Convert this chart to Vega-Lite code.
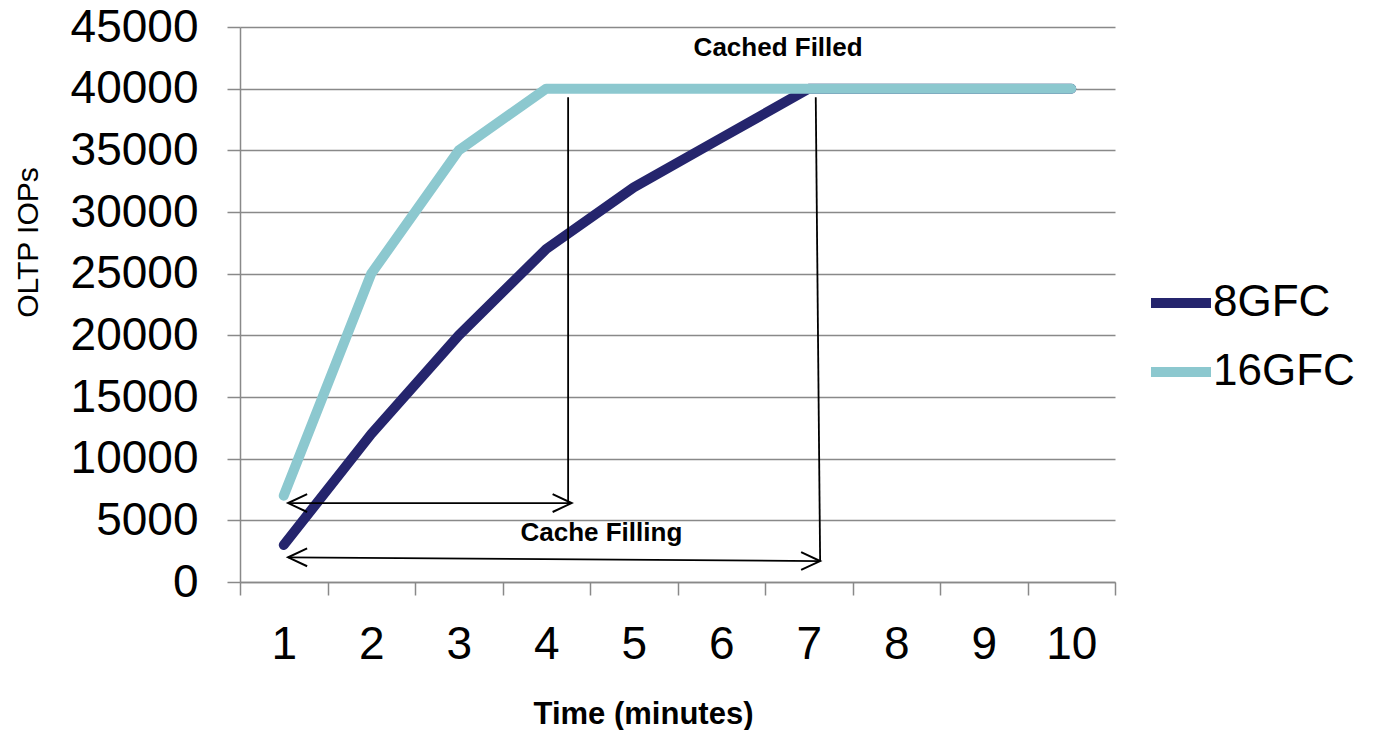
{
  "$schema": "https://vega.github.io/schema/vega-lite/v6.json",
  "width": 875,
  "height": 555,
  "autosize": {"type": "none"},
  "padding": {"left": 240, "top": 27, "right": 258, "bottom": 148},
  "background": "white",
  "config": {"view": {"stroke": null}, "font": "Liberation Sans"},
  "datasets": {
    "series": [
      {"minute": 1, "series": "8GFC", "iops": 3000},
      {"minute": 2, "series": "8GFC", "iops": 12000},
      {"minute": 3, "series": "8GFC", "iops": 20000},
      {"minute": 4, "series": "8GFC", "iops": 27000},
      {"minute": 5, "series": "8GFC", "iops": 32000},
      {"minute": 6, "series": "8GFC", "iops": 36000},
      {"minute": 7, "series": "8GFC", "iops": 40000},
      {"minute": 8, "series": "8GFC", "iops": 40000},
      {"minute": 9, "series": "8GFC", "iops": 40000},
      {"minute": 10, "series": "8GFC", "iops": 40000},
      {"minute": 1, "series": "16GFC", "iops": 7000},
      {"minute": 2, "series": "16GFC", "iops": 25000},
      {"minute": 3, "series": "16GFC", "iops": 35000},
      {"minute": 4, "series": "16GFC", "iops": 40000},
      {"minute": 5, "series": "16GFC", "iops": 40000},
      {"minute": 6, "series": "16GFC", "iops": 40000},
      {"minute": 7, "series": "16GFC", "iops": 40000},
      {"minute": 8, "series": "16GFC", "iops": 40000},
      {"minute": 9, "series": "16GFC", "iops": 40000},
      {"minute": 10, "series": "16GFC", "iops": 40000}
    ],
    "guides": [
      {"x0": 4.25, "y0": 39300, "x1": 4.25, "y1": 6400},
      {"x0": 7.08, "y0": 39300, "x1": 7.13, "y1": 1700},
      {"x0": 1.05, "y0": 6400, "x1": 4.29, "y1": 6400},
      {"x0": 1.05, "y0": 2000, "x1": 7.13, "y1": 1700}
    ],
    "leftHeads": [
      {"x": 1.05, "y": 6400},
      {"x": 1.05, "y": 2000}
    ],
    "rightHeads": [
      {"x": 4.29, "y": 6400},
      {"x": 7.13, "y": 1700}
    ],
    "notes": [
      {"x": 6.65, "y": 43300, "text": "Cached Filled"},
      {"x": 4.63, "y": 3970, "text": "Cache Filling"}
    ]
  },
  "layer": [
    {
      "data": {"name": "series"},
      "mark": {"type": "line", "strokeWidth": 10, "strokeCap": "round", "strokeJoin": "round"},
      "encoding": {
        "x": {
          "field": "minute",
          "type": "quantitative",
          "scale": {"domain": [0.5, 10.5], "nice": false, "zero": false},
          "axis": {
            "values": [0.5, 1.5, 2.5, 3.5, 4.5, 5.5, 6.5, 7.5, 8.5, 9.5, 10.5],
            "labelExpr": "datum.value < 10 ? format(datum.value + 0.5, 'd') : ''",
            "labelOffset": 43.75,
            "labelFlush": false,
            "labelOverlap": false,
            "labelFontSize": 46,
            "labelColor": "black",
            "labelFont": "Liberation Sans",
            "labelPadding": 27,
            "tickSize": 13,
            "tickColor": "#898989",
            "tickWidth": 1.5,
            "domainColor": "#898989",
            "domainWidth": 1.5,
            "grid": false,
            "title": "Time (minutes)",
            "titleFont": "Liberation Sans",
            "titleFontSize": 31,
            "titleFontWeight": "bold",
            "titleColor": "black",
            "titleX": 403,
            "titleY": 141,
            "titleBaseline": "alphabetic",
            "titleAlign": "center"
          }
        },
        "y": {
          "field": "iops",
          "type": "quantitative",
          "scale": {"domain": [0, 45000], "nice": false},
          "axis": {
            "values": [0, 5000, 10000, 15000, 20000, 25000, 30000, 35000, 40000, 45000],
            "format": "d",
            "labelFontSize": 46,
            "labelColor": "black",
            "labelFont": "Liberation Sans",
            "labelPadding": 29,
            "labelOverlap": false,
            "tickSize": 13,
            "tickColor": "#898989",
            "tickWidth": 1.5,
            "domainColor": "#898989",
            "domainWidth": 1.5,
            "grid": true,
            "gridColor": "#898989",
            "gridWidth": 1.5,
            "title": "OLTP IOPs",
            "titleFont": "Liberation Sans",
            "titleFontSize": 30,
            "titleFontWeight": "normal",
            "titleColor": "black",
            "titleAngle": -90,
            "titleX": -212,
            "titleY": 215,
            "titleBaseline": "middle",
            "titleAlign": "center"
          }
        },
        "color": {
          "field": "series",
          "type": "nominal",
          "scale": {"domain": ["8GFC", "16GFC"], "range": ["#25256d", "#8cc8cf"]},
          "legend": {
            "title": null,
            "orient": "none",
            "legendX": 906,
            "legendY": 241,
            "symbolType": "stroke",
            "symbolSize": 3600,
            "symbolStrokeWidth": 10,
            "labelFontSize": 44,
            "labelFont": "Liberation Sans",
            "labelColor": "black",
            "labelOffset": -3,
            "rowPadding": 12,
            "padding": 0
          }
        }
      }
    },
    {
      "data": {"name": "guides"},
      "mark": {"type": "rule", "color": "black", "strokeWidth": 1.8},
      "encoding": {
        "x": {"field": "x0", "type": "quantitative"},
        "x2": {"field": "x1"},
        "y": {"field": "y0", "type": "quantitative"},
        "y2": {"field": "y1"}
      }
    },
    {
      "data": {"name": "leftHeads"},
      "mark": {"type": "point", "shape": "M1,-0.47L0,0L1,0.47", "size": 1444, "filled": false, "color": "black", "strokeWidth": 2, "opacity": 1},
      "encoding": {
        "x": {"field": "x", "type": "quantitative"},
        "y": {"field": "y", "type": "quantitative"}
      }
    },
    {
      "data": {"name": "rightHeads"},
      "mark": {"type": "point", "shape": "M-1,-0.47L0,0L-1,0.47", "size": 1444, "filled": false, "color": "black", "strokeWidth": 2, "opacity": 1},
      "encoding": {
        "x": {"field": "x", "type": "quantitative"},
        "y": {"field": "y", "type": "quantitative"}
      }
    },
    {
      "data": {"name": "notes"},
      "mark": {"type": "text", "font": "Liberation Sans", "fontSize": 26, "fontWeight": "bold", "align": "center", "baseline": "middle", "color": "black"},
      "encoding": {
        "x": {"field": "x", "type": "quantitative"},
        "y": {"field": "y", "type": "quantitative"},
        "text": {"field": "text", "type": "nominal"}
      }
    }
  ]
}
